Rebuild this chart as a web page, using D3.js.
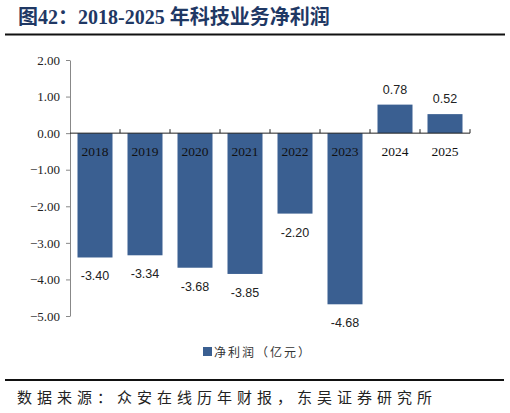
<!DOCTYPE html>
<html><head><meta charset="utf-8">
<script src="https://cdn.jsdelivr.net/npm/d3@7"></script>
<style>body{margin:0;background:#fff}svg{display:block}</style>
</head><body>
<script>
const categories = ["2018","2019","2020","2021","2022","2023","2024","2025"];
const values = [-3.40,-3.34,-3.68,-3.85,-2.20,-4.68,0.78,0.52];
const yTicks = [2,1,0,-1,-2,-3,-4,-5];
const seriesName = "净利润（亿元）";
const title = "图42：2018-2025 年科技业务净利润";
const source = "数据来源：众安在线历年财报，东吴证券研究所";

const W=510,H=413, color="#3a5f91";
const svg=d3.select("body").append("svg").attr("width",W).attr("height",H);

svg.append("text").attr("x",18).attr("y",24)
  .attr("font-family","'Liberation Serif','Noto Sans CJK SC',serif")
  .attr("font-weight","bold").attr("font-size",20).attr("fill","#1f3864").text(title);
svg.append("line").attr("x1",5).attr("x2",505).attr("y1",34.5).attr("y2",34.5)
  .attr("stroke","#111").attr("stroke-width",2);
svg.append("line").attr("x1",5).attr("x2",504).attr("y1",380).attr("y2",380)
  .attr("stroke","#111").attr("stroke-width",2);
svg.append("text").attr("x",17).attr("y",403)
  .attr("font-family","'Noto Sans CJK SC',sans-serif").attr("font-size",15).attr("letter-spacing",5)
  .attr("fill","#222").text(source);

const x=d3.scaleBand().domain(categories).range([70,470]).paddingInner(0.3).paddingOuter(0.15);
const y=d3.scaleLinear().domain([-5,2]).range([316,60]);

// y axis
const ya=svg.append("g").attr("transform","translate(70,0)")
  .call(d3.axisLeft(y).tickValues(yTicks).tickFormat(d3.format(".2f")).tickSize(4).tickSizeOuter(0));
ya.select(".domain").attr("stroke","#888");
ya.selectAll(".tick line").attr("stroke","#888");
ya.selectAll("text").attr("font-family","'Liberation Serif',serif").attr("font-size",13).attr("fill","#222").attr("x",-10);

// bars
svg.selectAll("rect.bar").data(values).enter().append("rect").attr("class","bar")
  .attr("x",(d,i)=>x(categories[i])).attr("width",x.bandwidth())
  .attr("y",d=>y(Math.max(0,d))).attr("height",d=>Math.abs(y(d)-y(0)))
  .attr("fill",color);

// x axis at 0
const xa=svg.append("g").attr("transform",`translate(0,${y(0)})`);
xa.append("line").attr("x1",70).attr("x2",470).attr("stroke","#222").attr("stroke-width",1);
const bounds=d3.range(1,categories.length+1).map(i=>70+i*x.step());
xa.selectAll("line.t").data(bounds).enter().append("line").attr("class","t")
  .attr("x1",d=>d).attr("x2",d=>d).attr("y1",0).attr("y2",-4).attr("stroke","#222");
xa.selectAll("text").data(categories).enter().append("text")
  .attr("x",d=>x(d)+x.bandwidth()/2).attr("y",23).attr("text-anchor","middle")
  .attr("font-family","'Liberation Serif',serif").attr("font-size",13.5).attr("fill","#111").text(d=>d);

// value labels
svg.selectAll("text.val").data(values).enter().append("text").attr("class","val")
  .attr("x",(d,i)=>x(categories[i])+x.bandwidth()/2)
  .attr("y",d=>d>=0?y(d)-11:y(d)+23).attr("text-anchor","middle")
  .attr("font-family","'Liberation Sans',sans-serif").attr("font-size",12.5).attr("fill","#222")
  .text(d=>d.toFixed(2));

// legend
svg.append("rect").attr("x",203).attr("y",347).attr("width",9).attr("height",9).attr("fill",color);
svg.append("text").attr("x",214).attr("y",356.5)
  .attr("font-family","'Noto Sans CJK SC',sans-serif").attr("font-size",12).attr("letter-spacing",2)
  .attr("fill","#333").text(seriesName);
</script>
</body></html>
